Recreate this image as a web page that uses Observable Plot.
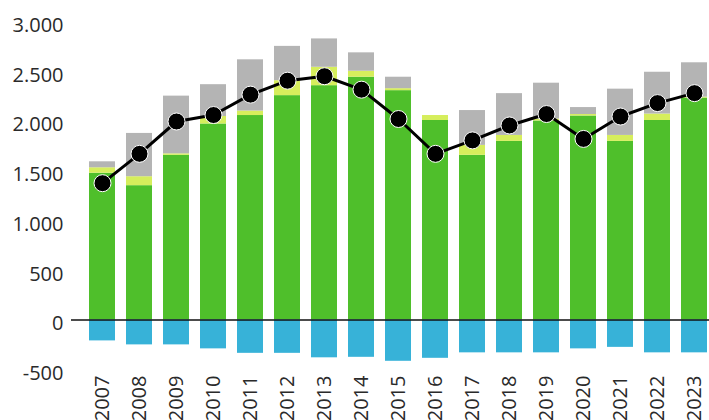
<!DOCTYPE html>
<html>
<head>
<meta charset="utf-8">
<script src="https://cdn.jsdelivr.net/npm/d3@7"></script>
<script src="https://cdn.jsdelivr.net/npm/@observablehq/plot@0.6"></script>
<style>
  html, body { margin: 0; padding: 0; background: #fff; }
  #chart svg { display: block; }
</style>
</head>
<body>
<div id="chart"></div>
<script>
const years = ["2007","2008","2009","2010","2011","2012","2013","2014","2015","2016","2017","2018","2019","2020","2021","2022","2023"];
const greenValues  = [1475, 1350, 1655, 1970, 2055, 2255, 2355, 2440, 2305, 2005, 1655, 1795, 2000, 2050, 1795, 2005, 2230];
const yellowValues = [55, 90, 15, 75, 45, 150, 185, 60, 20, 50, 100, 60, 20, 15, 60, 65, 10];
const greyValues   = [60, 435, 580, 320, 515, 345, 285, 185, 115, 0, 350, 420, 360, 70, 465, 420, 345];
const blueValues   = [-210, -250, -250, -290, -335, -335, -380, -375, -415, -385, -330, -330, -330, -290, -275, -330, -330];
const lineValues   = [1375, 1670, 1995, 2060, 2265, 2405, 2450, 2315, 2020, 1670, 1805, 1955, 2070, 1820, 2045, 2180, 2280];
const yTicks = [-500, 0, 500, 1000, 1500, 2000, 2500, 3000];

const layers = ["layerA", "layerB", "layerC", "layerD"];
const layerColors = ["#4fbf2b", "#d6ee5c", "#b4b4b4", "#37b2d8"];

const table = [];
years.forEach((yr, i) => {
  table.push({year: yr, layer: "layerA", value: greenValues[i]});
  table.push({year: yr, layer: "layerB", value: yellowValues[i]});
  table.push({year: yr, layer: "layerC", value: greyValues[i]});
  table.push({year: yr, layer: "layerD", value: blueValues[i]});
});
const linePts = years.map((yr, i) => ({year: yr, value: lineValues[i]}));

const fmt = d => {
  if (d === 0) return "0";
  const s = d3.format(",")(Math.abs(d)).replace(/,/g, ".");
  return (d < 0 ? "-" : "") + s;
};

const chart = Plot.plot({
  width: 709,
  height: 420,
  marginLeft: 71,
  marginRight: 0,
  marginTop: 0,
  marginBottom: 48,
  style: {fontFamily: "'Open Sans', sans-serif", background: "#fff"},
  x: {type: "band", domain: years, range: [71, 724.6], padding: 0.29, label: null},
  y: {domain: [-500, 3000], range: [369.25, 21], label: null},
  color: {type: "ordinal", domain: layers, range: layerColors},
  marks: [
    Plot.barY(table, {x: "year", y: "value", fill: "layer", order: layers}),
    Plot.ruleY([0], {stroke: "#111", strokeWidth: 1.6}),
    Plot.line(linePts, {x: "year", y: "value", stroke: "#000", strokeWidth: 3}),
    Plot.dot(linePts, {x: "year", y: "value", r: 8.5, fill: "#000", stroke: "#fff", strokeWidth: 1}),
    Plot.axisY({ticks: yTicks, tickFormat: fmt, tickSize: 0, tickPadding: 8, fontSize: 20, fill: "#2a2a2a", dy: 4, label: null}),
    Plot.axisX({tickRotate: -90, tickSize: 0, tickPadding: 3, fontSize: 20, fill: "#2a2a2a", label: null})
  ]
});
document.getElementById("chart").appendChild(chart);
</script>
</body>
</html>
